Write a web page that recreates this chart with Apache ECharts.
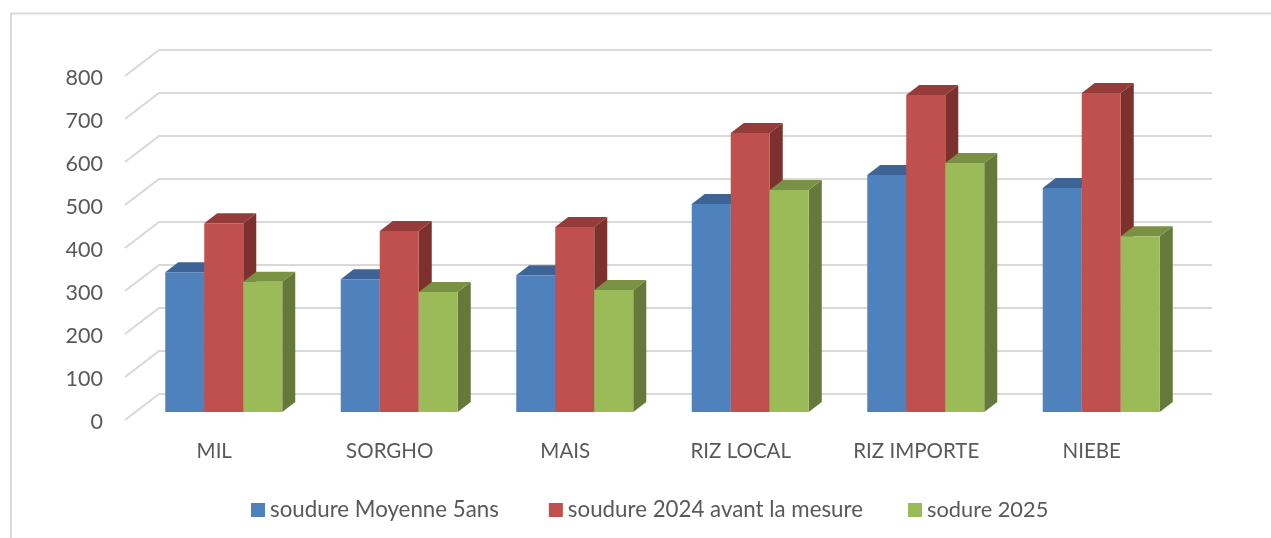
<!DOCTYPE html>
<html>
<head>
<meta charset="utf-8">
<style>
  html, body { margin: 0; padding: 0; background: #fff; }
  #chart { width: 1271px; height: 538px; }
</style>
<script src="https://cdn.jsdelivr.net/npm/echarts@6/dist/echarts.min.js"></script>
</head>
<body>
<div id="chart"></div>
<script>
const categories = ["MIL", "SORGHO", "MAIS", "RIZ LOCAL", "RIZ IMPORTE", "NIEBE"];
const moyenne5ans = [325, 309, 318, 484, 551, 521];
const soudure2024 = [439, 421, 430, 649, 737, 742];
const sodure2025 = [303, 279, 284, 516, 579, 409];
const tickValues = [0, 100, 200, 300, 400, 500, 600, 700, 800];

// 3D look: the wall sits behind the axis plane, the bars stand in between
const wallDx = 34, wallDy = -26;
const planeDx = 11, planeDy = -8;
const depthDx = 13, depthDy = -10;
const barWidth = 39;
const textColor = "#595959";
const font = "Lato";

function wallItem(params, api) {
  const cs = params.coordSys;
  const y = api.coord([0, api.value(0)])[1];
  const x = cs.x;
  return {
    type: "polyline",
    shape: { points: [[x, y], [x + wallDx, y + wallDy], [x + wallDx + cs.width, y + wallDy]] },
    style: { fill: null, stroke: "#d9d9d9", lineWidth: 2 },
    silent: true,
  };
}

// one bar of the group, offset is the slot in the cluster (0, 1, 2)
function barRenderer(slot, front, top, side) {
  return (params, api) => {
    const base = api.coord([api.value(0), 0]);
    const head = api.coord([api.value(0), api.value(1)]);
    const x0 = base[0] + planeDx + (slot - 1.5) * barWidth;
    const x1 = x0 + barWidth;
    const y0 = base[1] + planeDy;
    const y1 = head[1] + planeDy;
    return {
      type: "group",
      children: [
        {
          type: "polygon",
          shape: { points: [[x1, y1], [x1 + depthDx, y1 + depthDy], [x1 + depthDx, y0 + depthDy], [x1, y0]] },
          style: { fill: side },
        },
        {
          type: "polygon",
          shape: { points: [[x0, y1], [x0 + depthDx, y1 + depthDy], [x1 + depthDx, y1 + depthDy], [x1, y1]] },
          style: { fill: top },
        },
        {
          type: "rect",
          shape: { x: x0, y: y1, width: barWidth, height: y0 - y1 },
          style: { fill: front },
        },
      ],
    };
  };
}

function barSeries(name, values, slot, front, top, side) {
  return {
    name: name,
    type: "custom",
    clip: false,
    itemStyle: { color: front },
    renderItem: barRenderer(slot, front, top, side),
    encode: { x: 0, y: 1 },
    data: values.map((v, i) => [i, v]),
    z: 3,
  };
}

// two legends because the gap before the last entry is narrower
const legendBase = {
  top: 494,
  itemWidth: 14,
  itemHeight: 14,
  itemGap: 50,
  icon: "rect",
  textStyle: { color: textColor, fontSize: 22.3, fontFamily: font },
};

const chart = echarts.init(document.getElementById("chart"));
chart.setOption({
  animation: false,
  backgroundColor: "#fff",
  textStyle: { fontFamily: font },
  graphic: [
    {
      type: "polyline",
      shape: { points: [[11, 538], [11, 13.5], [1271, 13.5]] },
      style: { fill: null, stroke: "#d9d9d9", lineWidth: 2 },
      silent: true,
    },
  ],
  legend: [
    { ...legendBase, data: ["soudure Moyenne 5ans", "soudure 2024 avant la mesure"], left: 246 },
    { ...legendBase, data: ["sodure 2025"], left: 903, textStyle: { color: textColor, fontSize: 21.8, fontFamily: font } },
  ],
  grid: { left: 125, top: 76, width: 1053, height: 344 },
  xAxis: {
    type: "category",
    data: categories,
    axisLine: { show: false },
    axisTick: { show: false },
    axisLabel: { color: textColor, fontSize: 20.5, margin: 21, padding: [0, 0, 0, 3], fontFamily: font },
  },
  yAxis: {
    type: "value",
    min: 0,
    max: 800,
    interval: 100,
    splitLine: { show: false },
    axisLine: { show: false },
    axisTick: { show: false },
    axisLabel: {
      margin: 22,
      formatter: "{v|{value}}",
      // top padding on the token pushes the digits down a little
      rich: { v: { color: textColor, fontSize: 21.5, fontFamily: font, padding: [4, 0, 0, 0] } },
    },
  },
  series: [
    {
      name: "wall",
      type: "custom",
      clip: false,
      renderItem: wallItem,
      encode: { y: 0 },
      data: tickValues.map((v) => [v]),
      silent: true,
      z: 1,
    },
    barSeries("soudure Moyenne 5ans", moyenne5ans, 0, "#4f81bd", "#3d6494", "#33547b"),
    barSeries("soudure 2024 avant la mesure", soudure2024, 1, "#c0504d", "#953c3a", "#7d312f"),
    barSeries("sodure 2025", sodure2025, 2, "#9bbb59", "#789143", "#65793a"),
  ],
});
</script>
</body>
</html>
